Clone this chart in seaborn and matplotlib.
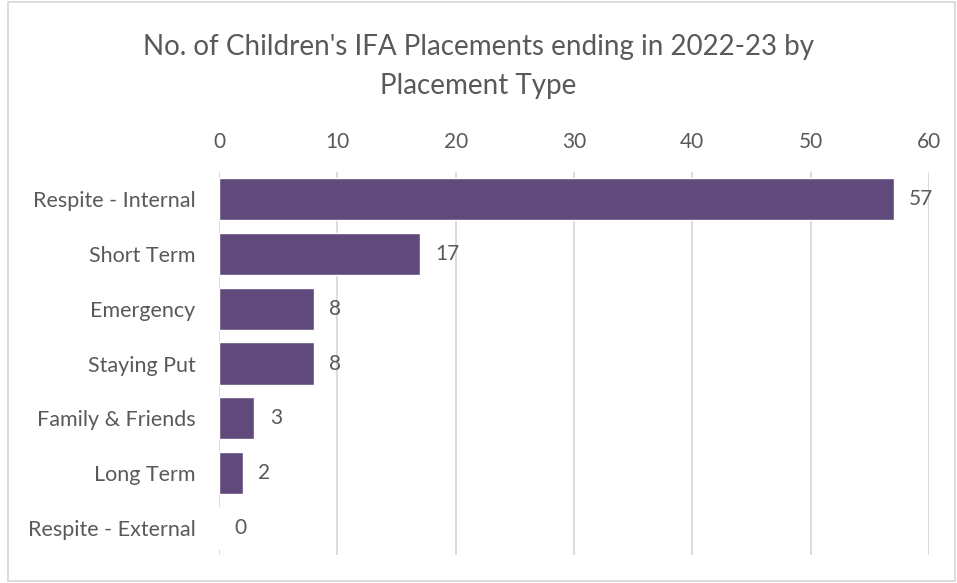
import matplotlib
matplotlib.use('Agg')
import matplotlib.pyplot as plt
import seaborn as sns
import pandas as pd
from matplotlib.patches import Rectangle

# data
placement_types = ['Respite - Internal', 'Short Term', 'Emergency', 'Staying Put',
                   'Family & Friends', 'Long Term', 'Respite - External']
placements = [57, 17, 8, 8, 3, 2, 0]
x_ticks = [0, 10, 20, 30, 40, 50, 60]

df = pd.DataFrame({'type': placement_types, 'count': placements})

sns.set_theme(style='white')
plt.rcParams['font.family'] = ['Lato', 'DejaVu Sans']
txt_col = '#595959'

fig = plt.figure(figsize=(9.57, 5.83), dpi=100)
ax = fig.add_axes([0.2288, 0.0475, 0.742, 0.658])

sns.barplot(data=df, x='count', y='type', color='#5F4A7B', width=0.77,
            saturation=1, ax=ax, zorder=3)

ax.set_xlim(0, 60)
ax.set_xticks(x_ticks)
ax.xaxis.tick_top()
ax.tick_params(axis='x', length=0, labelsize=15, labelcolor=txt_col, pad=14)
ax.tick_params(axis='y', length=0, labelsize=15.5, labelcolor=txt_col, pad=17)
ax.grid(axis='x', color='#D9D9D9', linewidth=1.3, zorder=0)
ax.set_xlabel('')
ax.set_ylabel('')
for s in ax.spines.values():
    s.set_visible(False)

# value labels
for i, v in enumerate(placements):
    ax.annotate(str(v), (v, i), xytext=(11, 0), textcoords='offset points',
                va='center', ha='left', fontsize=15, color=txt_col)

fig.text(0.5, 0.886, "No. of Children's IFA Placements ending in 2022-23 by\nPlacement Type",
         ha='center', va='center', fontsize=20, color=txt_col, linespacing=1.65)

# chart border
fig.patches.append(Rectangle((0.008, 0.003), 0.99, 0.994, transform=fig.transFigure,
                             fill=False, edgecolor='#D9D9D9', linewidth=1.3))

fig.savefig('out.png', dpi=100)
